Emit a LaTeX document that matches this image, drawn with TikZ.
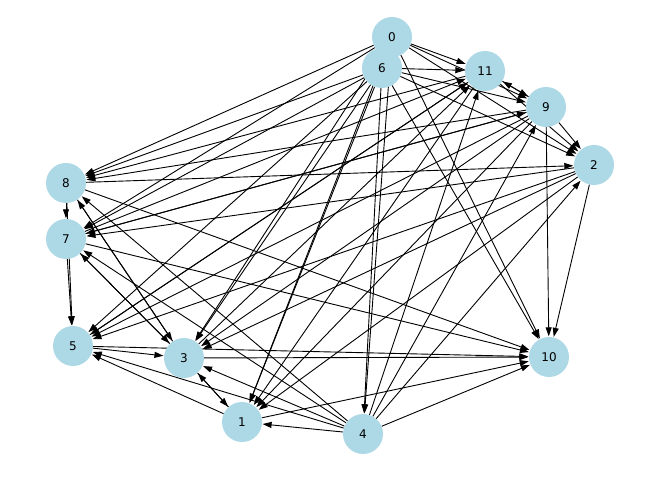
\documentclass[tikz,border=0pt]{standalone}
\usepackage{fontspec}
\setmainfont{DejaVu Sans}
\usetikzlibrary{arrows.meta,backgrounds}
\begin{document}
\begin{tikzpicture}[x=1pt,y=-1pt,
  vtx/.style={circle,fill={rgb,255:red,173;green,216;blue,230},minimum size=40pt,inner sep=0pt,font=\fontsize{12}{14}\selectfont},
  edge/.style={line width=0.9pt,-{Triangle[length=9pt,width=6pt]},shorten >=0.5pt}]
\useasboundingbox (0,0) rectangle (656,486);
\node[vtx] (n0) at (392,37) {0};
\node[vtx] (n6) at (382,68) {6};
\node[vtx] (n11) at (485,71) {11};
\node[vtx] (n9) at (546,107) {9};
\node[vtx] (n2) at (594,165) {2};
\node[vtx] (n8) at (66,183) {8};
\node[vtx] (n7) at (66,239) {7};
\node[vtx] (n5) at (73,346) {5};
\node[vtx] (n3) at (184,358) {3};
\node[vtx] (n10) at (549,357) {10};
\node[vtx] (n1) at (242,422) {1};
\node[vtx] (n4) at (363,434) {4};
\begin{pgfonlayer}{background}
\foreach \a/\b in {0/11,0/9,0/2,0/10,0/8,0/7,0/3,0/1,0/4,
  6/11,6/9,6/2,6/10,6/8,6/7,6/5,6/3,6/1,6/4,
  11/9,11/8,11/5,11/1,11/2,
  9/11,9/2,9/10,9/8,9/7,9/5,9/3,9/1,
  2/10,2/7,2/5,2/3,2/1,
  8/7,8/5,8/3,8/2,8/10,
  7/5,7/3,7/10,7/11,7/9,
  5/3,5/10,5/11,
  3/1,3/7,3/8,3/10,3/11,
  1/3,1/5,1/10,
  4/1,4/3,4/5,4/7,4/8,4/10,4/2,4/9,4/11}
  \draw[edge] (n\a) -- (n\b);
\end{pgfonlayer}
\end{tikzpicture}
\end{document}
